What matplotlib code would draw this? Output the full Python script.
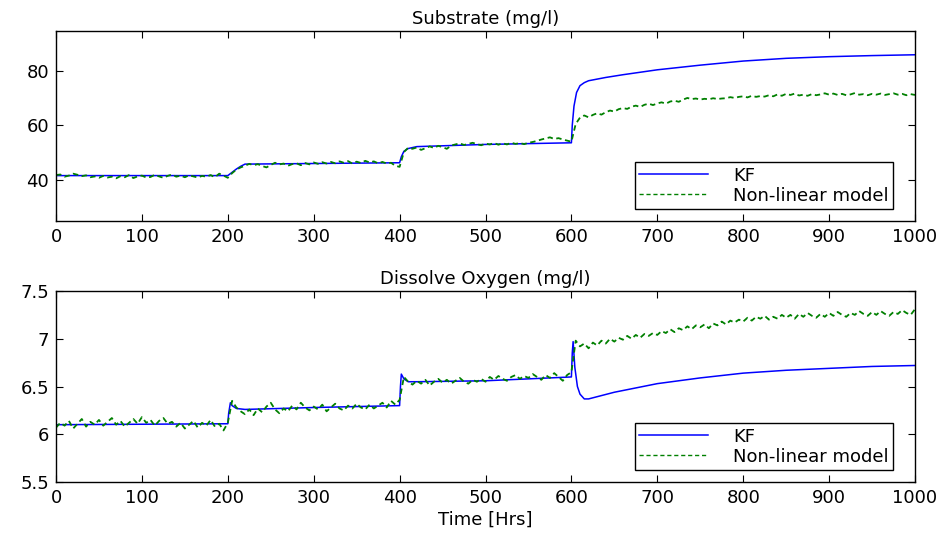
import numpy as np
import matplotlib
matplotlib.use('Agg')
import matplotlib.pyplot as plt
from matplotlib.ticker import FormatStrFormatter

# green "non-linear model" series, sampled every 5 hrs, 0..1000
t_nl = np.arange(0, 1001, 5)

sub_nl = [
    41.8, 42.0, 41.2, 41.6, 42.3, 41.9, 41.4, 41.7, 41.0, 41.3,
    40.8, 41.5, 40.9, 41.2, 40.6, 41.4, 41.0, 41.8, 40.7, 41.3,
    41.6, 40.9, 41.1, 41.9, 41.3, 40.8, 41.5, 42.0, 41.2, 41.6,
    41.0, 41.7, 41.3, 40.9, 41.5, 41.2, 41.8, 41.0, 42.3, 41.6,
    40.8, 42.5, 43.8, 44.6, 45.2, 45.9, 45.4, 45.8, 45.1, 44.6,
    45.5, 46.3, 45.7, 46.0, 45.2, 45.8, 46.1, 45.4, 46.2, 45.7,
    46.4, 45.9, 46.5, 46.0, 46.6, 46.1, 46.8, 46.3, 46.9, 46.0,
    46.7, 46.2, 47.0, 46.4, 46.8, 46.1, 46.6, 46.0, 46.3, 45.2,
    44.8, 50.2, 51.8, 51.4, 51.9, 51.0, 51.6, 52.3, 51.7, 52.5,
    52.0, 51.4, 52.6, 53.0, 53.4, 52.8, 53.2, 53.6, 53.1, 52.7,
    53.3, 53.0, 53.5, 52.9, 53.4, 53.0, 53.6, 53.2, 53.5, 53.1,
    53.6, 53.9, 54.3, 54.8, 55.2, 55.6, 55.0, 55.3, 54.8, 54.4,
    54.0, 60.5, 62.8, 63.6, 62.9, 63.8, 64.4, 63.9, 64.8, 65.4,
    65.0, 65.9, 66.3, 66.0, 66.8, 67.2, 66.7, 67.5, 67.9, 67.4,
    68.0, 68.4, 67.9, 68.7, 69.0, 68.6, 69.4, 70.0, 69.6, 69.8,
    69.4, 69.7, 69.5, 69.9, 69.6, 69.8, 69.9, 70.3, 70.0, 70.4,
    70.6, 70.2, 70.8, 70.4, 70.7, 70.5, 71.0, 70.6, 71.3, 70.8,
    71.5, 71.1, 71.6, 70.9, 71.2, 70.8, 71.4, 71.0, 71.3, 71.7,
    71.2, 71.6, 71.1, 71.5, 71.0, 71.3, 71.8, 71.2, 71.4, 71.0,
    71.5, 71.2, 71.6, 71.1, 71.4, 71.7, 71.2, 71.5, 71.0, 71.4,
    71.1,
]

do_nl = [
    6.07, 6.12, 6.09, 6.14, 6.06, 6.11, 6.16, 6.08, 6.13, 6.10,
    6.15, 6.09, 6.13, 6.17, 6.10, 6.14, 6.08, 6.12, 6.16, 6.11,
    6.18, 6.12, 6.15, 6.09, 6.14, 6.17, 6.11, 6.13, 6.08, 6.12,
    6.06, 6.10, 6.14, 6.07, 6.12, 6.09, 6.15, 6.08, 6.11, 6.04,
    6.12, 6.35, 6.28, 6.24, 6.21, 6.26, 6.20, 6.27, 6.23, 6.29,
    6.33, 6.26, 6.22, 6.27, 6.24, 6.30, 6.26, 6.33, 6.28, 6.25,
    6.29, 6.26, 6.31, 6.24, 6.28, 6.32, 6.27, 6.25, 6.30, 6.27,
    6.32, 6.28, 6.26, 6.31, 6.27, 6.30, 6.33, 6.28, 6.35, 6.31,
    6.36, 6.60, 6.55, 6.52, 6.56, 6.53, 6.57, 6.51, 6.55, 6.58,
    6.54, 6.57, 6.53, 6.56, 6.59, 6.55, 6.53, 6.57, 6.55, 6.58,
    6.55, 6.60, 6.57, 6.61, 6.58, 6.56, 6.60, 6.62, 6.58, 6.61,
    6.59, 6.63, 6.60, 6.57, 6.62, 6.59, 6.64, 6.60, 6.56, 6.62,
    6.65, 6.98, 6.92, 6.95, 6.90, 6.96, 6.93, 6.98, 6.95, 7.00,
    6.97, 7.01, 6.99, 7.03, 7.00, 7.04, 7.01, 7.05, 7.03, 7.06,
    7.04, 7.08, 7.06, 7.10, 7.07, 7.11, 7.09, 7.13, 7.10, 7.14,
    7.12, 7.15, 7.11, 7.16, 7.14, 7.18, 7.15, 7.19, 7.17, 7.20,
    7.18, 7.22, 7.19, 7.23, 7.21, 7.24, 7.20, 7.23, 7.21, 7.25,
    7.22, 7.25, 7.21, 7.26, 7.23, 7.27, 7.24, 7.22, 7.26, 7.23,
    7.27, 7.24, 7.28, 7.25, 7.23, 7.27, 7.25, 7.29, 7.26, 7.24,
    7.28, 7.25, 7.29, 7.26, 7.24, 7.28, 7.26, 7.30, 7.27, 7.25,
    7.31,
]

# KF estimates (smooth, read at break points)
t_kf_sub = [0, 200, 205, 210, 215, 220, 400, 402, 405, 410, 420, 500, 600,
            601, 603, 606, 610, 615, 620, 640, 660, 700, 750, 800, 850, 900, 950, 1000]
sub_kf = [41.6, 41.6, 42.8, 44.0, 45.0, 45.8, 46.3, 48.5, 50.5, 51.5, 52.2, 53.0, 53.6,
          60.0, 67.0, 72.0, 74.5, 75.6, 76.3, 77.5, 78.5, 80.3, 82.0, 83.5, 84.5, 85.1, 85.5, 85.8]

t_kf_do = [0, 200, 201, 203, 205, 210, 220, 300, 400, 401, 402, 405, 410, 420, 500, 600,
           601, 602, 604, 607, 610, 615, 620, 650, 700, 750, 800, 850, 900, 950, 1000]
do_kf = [6.10, 6.11, 6.22, 6.33, 6.30, 6.27, 6.26, 6.28, 6.30, 6.50, 6.63, 6.58, 6.55, 6.55, 6.56, 6.60,
         6.85, 6.97, 6.70, 6.50, 6.42, 6.37, 6.37, 6.44, 6.53, 6.59, 6.64, 6.67, 6.69, 6.71, 6.72]

plt.rcParams['font.family'] = 'DejaVu Sans'
plt.rcParams['font.size'] = 13

fig = plt.figure(figsize=(9.43, 5.37), dpi=100)
ax1 = fig.add_axes([0.0594, 0.5885, 0.9109, 0.3538])
ax2 = fig.add_axes([0.0594, 0.1024, 0.9109, 0.3557])

blue = (0, 0, 1)
green = (0, 0.5, 0)

ax1.plot(t_kf_sub, sub_kf, color=blue, lw=1.1, label='KF')
ax1.plot(t_nl, sub_nl, color=green, lw=1.3, ls=(0, (3, 2)), label='Non-linear model')
ax1.set_xlim(0, 1000)
ax1.set_ylim(25, 94.5)
ax1.set_yticks([40, 60, 80])
ax1.set_title('Substrate (mg/l)', fontsize=13, pad=5)

ax2.plot(t_kf_do, do_kf, color=blue, lw=1.1, label='KF')
ax2.plot(t_nl, do_nl, color=green, lw=1.3, ls=(0, (3, 2)), label='Non-linear model')
ax2.set_xlim(0, 1000)
ax2.set_ylim(5.5, 7.5)
ax2.set_yticks([5.5, 6, 6.5, 7, 7.5])
ax2.yaxis.set_major_formatter(FormatStrFormatter('%g'))
ax2.set_title('Dissolve Oxygen (mg/l)', fontsize=13, pad=5)
ax2.set_xlabel('Time [Hrs]', fontsize=13, labelpad=3)

for ax in (ax1, ax2):
    ax.set_xticks(range(0, 1001, 100))
    ax.tick_params(direction='in', top=True, right=True, length=5, labelsize=13, pad=5)
    for sp in ax.spines.values():
        sp.set_linewidth(1.0)
    leg = ax.legend(loc='lower right', bbox_to_anchor=(0.985, 0.015), fancybox=False,
                    edgecolor='black', framealpha=1, fontsize=13, handlelength=3.8,
                    borderpad=0.25, labelspacing=0.1, handletextpad=1.4)
    leg.get_frame().set_linewidth(1.0)
    leg.get_lines()[1].set_linewidth(1.0)

fig.savefig('out.png', dpi=100)
